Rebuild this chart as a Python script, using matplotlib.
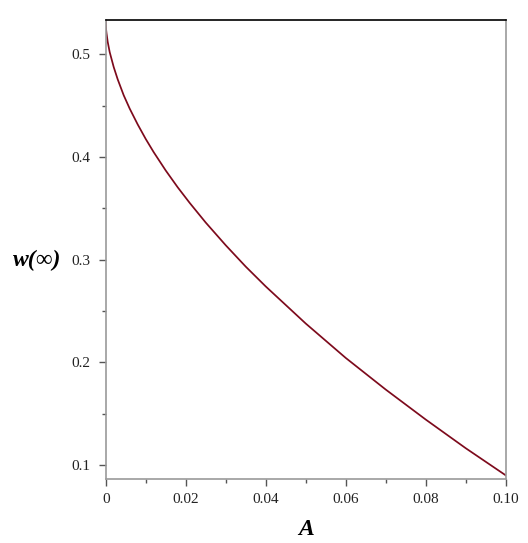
import matplotlib
matplotlib.use("Agg")
import matplotlib.pyplot as plt
from matplotlib.ticker import MultipleLocator, FixedLocator, FixedFormatter

# values
A_values = [0, 0.0001, 0.0002, 0.0005, 0.001, 0.002, 0.003, 0.0045, 0.006, 0.008,
            0.010, 0.012, 0.015, 0.018, 0.021, 0.025, 0.03, 0.035, 0.04, 0.05,
            0.06, 0.07, 0.08, 0.09, 0.1]
w_values = [0.532, 0.524, 0.5205, 0.512, 0.502, 0.4875, 0.4755, 0.460, 0.447, 0.4316,
            0.4175, 0.4046, 0.3868, 0.3704, 0.3552, 0.3361, 0.314, 0.2932, 0.2739, 0.2378,
            0.2043, 0.1735, 0.1443, 0.1164, 0.090]

x_ticks = [0, 0.02, 0.04, 0.06, 0.08, 0.10]
x_tick_labels = ["0", "0.02", "0.04", "0.06", "0.08", "0.10"]
y_ticks = [0.1, 0.2, 0.3, 0.4, 0.5]
y_tick_labels = ["0.1", "0.2", "0.3", "0.4", "0.5"]

serif = ["Liberation Serif", "DejaVu Serif"]
plt.rcParams["font.family"] = serif

fig = plt.figure(figsize=(5.28, 5.43), dpi=100)
ax = fig.add_axes([105.7 / 528, 1 - 479 / 543, 400 / 528, (479 - 20.3) / 543])

ax.plot(A_values, w_values, color="#7d0a1c", linewidth=1.25)

ax.set_xlim(0, 0.1)
ax.set_ylim(0.0864, 0.533)

ax.xaxis.set_major_locator(FixedLocator(x_ticks))
ax.xaxis.set_major_formatter(FixedFormatter(x_tick_labels))
ax.xaxis.set_minor_locator(MultipleLocator(0.01))
ax.yaxis.set_major_locator(FixedLocator(y_ticks))
ax.yaxis.set_major_formatter(FixedFormatter(y_tick_labels))
ax.yaxis.set_minor_locator(MultipleLocator(0.05))

gray = "#9a9a9a"
for side in ["left", "right", "bottom"]:
    ax.spines[side].set_color(gray)
    ax.spines[side].set_linewidth(1.2)
ax.spines["top"].set_color("black")
ax.spines["top"].set_linewidth(1.2)

ax.tick_params(which="both", direction="out", color="#555555", width=1,
               labelsize=11, labelcolor="#222222")
ax.tick_params(which="major", length=5)
ax.tick_params(which="minor", length=3)
ax.tick_params(axis="y", pad=6)
ax.tick_params(axis="x", pad=5)

ax.set_xlabel("A", fontsize=17, fontweight="bold", fontstyle="italic")
ax.xaxis.set_label_coords(0.5, -0.087)
ax.set_ylabel("w(∞)", fontsize=17, fontweight="bold", fontstyle="italic",
              rotation=0, va="center", ha="center")
ax.yaxis.set_label_coords(-0.172, 0.477)

fig.savefig("out.png", dpi=100)
